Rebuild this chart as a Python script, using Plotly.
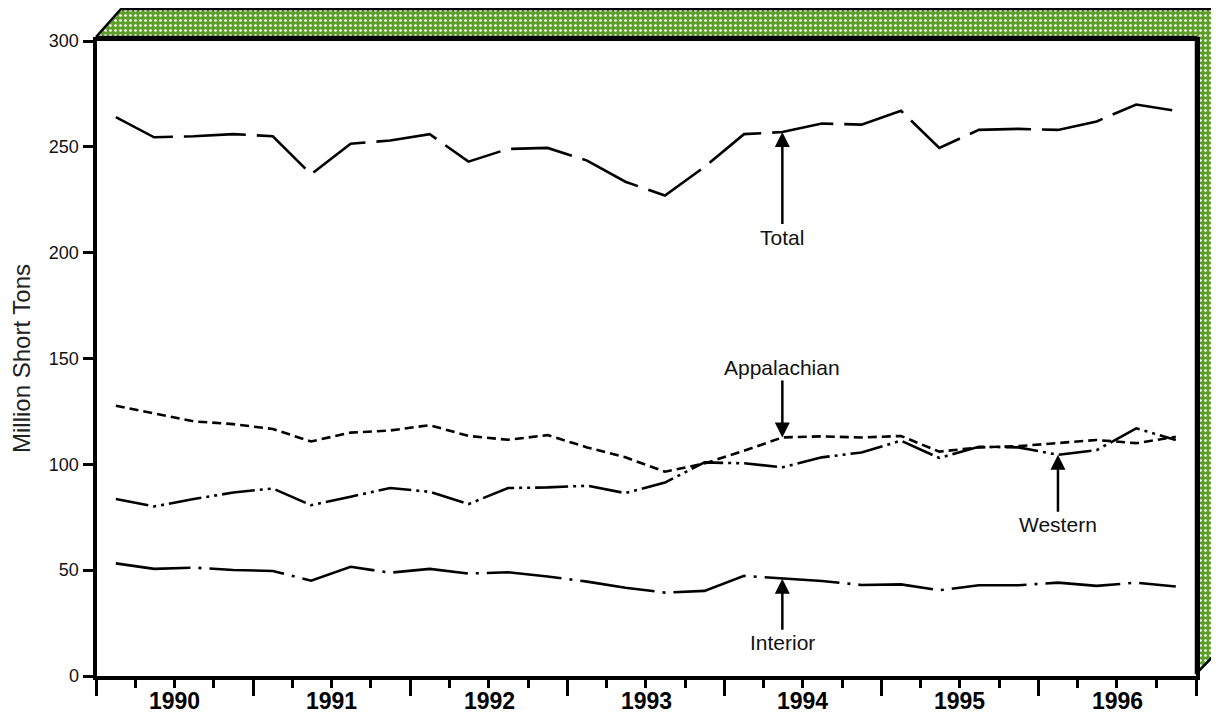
import plotly.graph_objects as go

# ---------------- data ----------------
years = [1990, 1991, 1992, 1993, 1994, 1995, 1996]
quarter_months = [2, 5, 8, 11]  # mid-quarter months

total = [264, 254.5, 255, 256, 255, 237, 251.5, 253, 256, 243, 249, 249.5,
         243.5, 233.5, 227, 240.5, 256, 257, 261, 260.5, 267, 249.5, 258, 258.5,
         258, 262, 270, 267]
appalachian = [127.7, 124, 120.3, 119, 116.7, 110.8, 115, 116, 118.5, 113.4, 111.6, 113.8,
               108, 103.3, 96.5, 100.4, 106.4, 112.7, 113.2, 112.7, 113.4, 106, 108, 108.6,
               110, 111.5, 110, 113]
western = [83.6, 80.1, 83.6, 86.7, 88.6, 80.7, 84.7, 88.8, 87, 81.2, 88.8, 89.1,
           89.9, 86.4, 91.4, 100.9, 100.5, 98.6, 103.3, 105.6, 111.2, 103, 108.3, 108,
           104.5, 106.7, 117, 111.5]
interior = [53.2, 50.6, 51.2, 50.1, 49.6, 45, 51.6, 48.8, 50.6, 48.4, 49, 47,
            44.6, 41.7, 39.4, 40.2, 47.3, 46, 44.9, 43, 43.3, 40.5, 42.9, 42.9,
            44.1, 42.6, 44.1, 42.3]

y_title = "Million Short Tons"
labels = ["Total", "Appalachian", "Western", "Interior"]
year_labels = [str(y) for y in years]

dates = [f"{y}-{m:02d}-15" for y in years for m in quarter_months]
year_mid = [f"{y}-07-02" for y in years]

# page body has an 8px margin: all pixel targets are shifted by it
OFF = 8
W, H = 1219, 719
FONT = "Liberation Sans, Arial, sans-serif"
GREEN = "#5e9e2a"


def px(v):
    return v - OFF


fig = go.Figure()

# ---------- decorative 3D frame (pixel space on full-figure axes) ----------
frame_x = [px(v) for v in [96, 121, 1250, 1250, 1196, 1196, 96]]
frame_y = [px(v) for v in [37, 9, 9, 618, 674, 37, 37]]
fig.add_trace(go.Scatter(
    x=frame_x, y=frame_y, xaxis="x", yaxis="y", mode="lines",
    fill="toself", fillcolor=GREEN,
    fillpattern=dict(shape=".", fgcolor="white", bgcolor=GREEN,
                     size=5, solidity=0.22, fillmode="replace"),
    line=dict(color="black", width=2.5), hoverinfo="skip", showlegend=False))

# ---------------- series ----------------
series = [
    (total, "62px,11px"),
    (appalachian, "9px,5px"),
    (western, "33px,5px,3px,5px,3px,5px"),
    (interior, "75px,8px,3px,8px"),
]
for (vals, dash), name in zip(series, labels):
    fig.add_trace(go.Scatter(
        x=dates, y=vals, xaxis="x2", yaxis="y2", mode="lines", name=name,
        line=dict(color="black", width=2.6, dash=dash), showlegend=False))

# ---------------- annotations ----------------
ann_specs = [
    ("Total", 17, total, 105),
    ("Appalachian", 17, appalachian, -70),
    ("Western", 24, western, 70),
    ("Interior", 17, interior, 64),
]
annotations = []
for text, idx, vals, ay in ann_specs:
    annotations.append(dict(
        x=dates[idx], y=vals[idx], xref="x2", yref="y2", text=text,
        showarrow=True, arrowhead=2, arrowsize=1.2, arrowwidth=2.5,
        arrowcolor="black", ax=0, ay=ay, standoff=0,
        font=dict(family=FONT, size=21, color="#111")))

# year labels centred in each year's span, just under the ticks
for xm, lab in zip(year_mid, year_labels):
    annotations.append(dict(
        x=xm, y=px(701), xref="x2", yref="y", text=lab, showarrow=False,
        xanchor="center", yanchor="middle",
        font=dict(family=FONT, size=23, color="black", weight="bold")))

fig.update_layout(
    width=W, height=H,
    margin=dict(l=0, r=0, t=0, b=0),
    paper_bgcolor="white", plot_bgcolor="rgba(0,0,0,0)",
    showlegend=False,
    annotations=annotations,
    xaxis=dict(domain=[0, 1], range=[0, W], visible=False, fixedrange=True),
    yaxis=dict(domain=[0, 1], range=[H, 0], visible=False, fixedrange=True),
    xaxis2=dict(
        domain=[px(96.5) / W, px(1196) / W], anchor="y2", type="date",
        range=["1990-01-01", "1997-01-01"],
        tick0="1990-01-01", dtick="M12", showticklabels=False,
        ticks="outside", ticklen=16, tickwidth=2.5, tickcolor="black",
        minor=dict(dtick="M3", ticks="outside", ticklen=8, tickwidth=2.5,
                   tickcolor="black", showgrid=False),
        showline=True, linewidth=4, linecolor="black", mirror=True,
        showgrid=False, zeroline=False, automargin=False,
    ),
    yaxis2=dict(
        domain=[(H - px(676)) / H, (H - px(41)) / H], anchor="x2",
        range=[0, 300], dtick=50, tick0=0,
        ticks="outside", ticklen=10, tickwidth=3, tickcolor="black",
        showline=True, linewidth=4, linecolor="black", mirror=True,
        showgrid=False, zeroline=False, automargin=False,
        tickfont=dict(family=FONT, size=18, color="#111"),
        title=dict(text=y_title, standoff=14,
                   font=dict(family=FONT, size=24, color="#222")),
    ),
)

fig.write_html("out.html")
